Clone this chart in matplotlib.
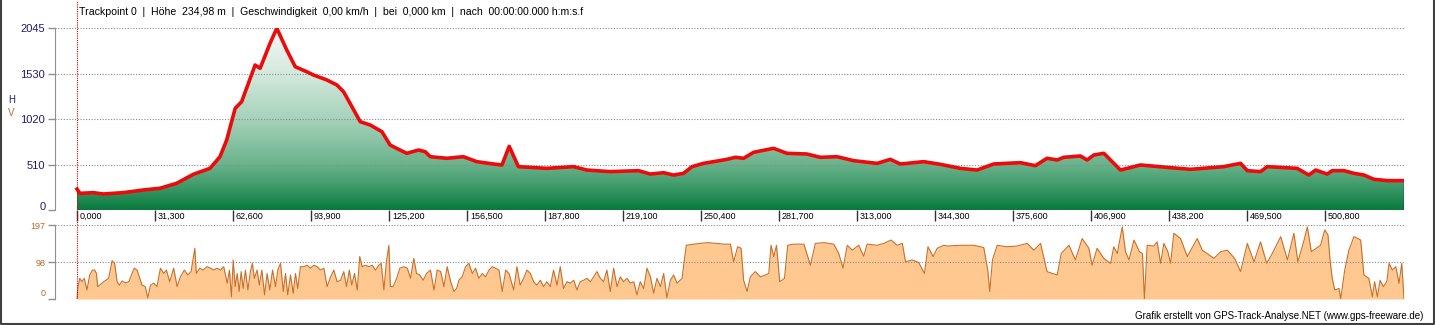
import matplotlib
matplotlib.use("Agg")
import matplotlib.pyplot as plt
import matplotlib.transforms as mtransforms
from matplotlib.colors import LinearSegmentedColormap
from matplotlib.lines import Line2D
import numpy as np

plt.rcParams['font.family'] = ['Liberation Sans', 'DejaVu Sans']

# Strecke in km
DIST_END = 532.7

# Höhenprofil (km, m)
elev_km = [0, 1.2, 6.5, 10.6, 18.6, 26.6, 33.3, 40, 46.7, 53.4, 57.4, 60.1, 63.5, 66.1,
           71.5, 73.5, 77.5, 80.2, 84.2, 87.6, 92.2, 94.9, 100.3, 104.3, 107, 109.6,
           113.7, 117.7, 122.4, 125.7, 128.5, 132.4, 137.1, 139.8, 141.8, 148.5, 155.1,
           160.5, 167.2, 170.6, 173.5, 177.2, 188.6, 199.3, 204.7, 214, 225.4, 230.1,
           235.5, 239.5, 243.5, 246.9, 251.5, 260.9, 264.3, 267.6, 271.6, 279.6, 285,
           293, 298.4, 305.1, 311.8, 321.2, 326.5, 330.5, 339.9, 346.6, 354.6, 361.3,
           368, 378.7, 384.7, 389.4, 393.5, 396.1, 402.8, 405.5, 408.2, 412.2, 418.9,
           426.9, 437.6, 447, 460.3, 467.1, 469.8, 475.1, 477.8, 489.8, 494.5, 497.2,
           501.9, 503.9, 508.6, 512.6, 516.6, 520.6, 526, 532.7]
elev_m = [235, 187, 195, 180, 195, 225, 244, 300, 401, 468, 599, 787, 1142, 1217,
          1629, 1592, 1873, 2042, 1798, 1610, 1554, 1517, 1461, 1405, 1329, 1199,
          992, 955, 880, 730, 690, 637, 674, 655, 599, 581, 599,
          543, 517, 506, 715, 487, 468, 487, 449, 431, 442, 404,
          419, 393, 412, 487, 524, 569, 592, 581, 648, 693, 637,
          629, 592, 599, 554, 524, 569, 517, 543, 513, 468, 449,
          517, 532, 498, 581, 562, 592, 607, 562, 618, 637, 449,
          506, 479, 457, 487, 524, 442, 431, 487, 468, 393, 449,
          404, 442, 442, 412, 393, 345, 330, 330]

# Geschwindigkeit (km, km/h)
speed_km = [0, 0.4, 1.1, 2.0, 2.9, 4.0, 5.1, 6.2, 7.1, 7.8, 8.3, 9.1, 10.7, 12.7, 14.1,
            15.1, 16.1, 17.0, 18.1, 19.4, 20.8, 22.1, 23.0, 24.1, 25.2, 26.1, 27.4, 28.4,
            29.5, 30.8, 32.1, 33.5, 34.8, 35.9, 37.2, 38.8, 40.2, 41.5, 43.1, 44.5, 45.8,
            47.3, 47.9, 49.3, 50.6, 52.2, 53.6, 54.9, 56.2, 57.6, 58.9, 60.3, 61.2, 62.0,
            62.7, 63.5, 64.3, 65.1, 65.9, 66.7, 67.6, 68.6, 69.6, 70.4, 71.2, 72.3, 73.2,
            74.2, 75.3, 76.3, 77.4, 78.5, 79.7, 80.6, 81.7, 82.8, 83.7, 84.6, 85.7, 86.8,
            87.7, 88.6, 89.7, 91.1, 92.4, 93.7, 95.1, 96.4, 97.7, 99.1, 100.4, 101.8,
            103.1, 104.4, 105.8, 107.1, 108.2, 109.3, 110.3, 111.4, 112.5, 113.5, 114.5,
            115.8, 117.2, 118.5, 119.8, 121.2, 122.1, 123.2, 124.2, 125.2, 125.8, 126.9,
            128.3, 129.6, 131.2, 132.6, 133.9, 135.2, 136.3, 137.6, 139.0, 140.3, 141.9,
            143.3, 144.6, 146.0, 147.3, 148.6, 150.0, 151.3, 152.4, 153.3, 154.6, 156.0,
            157.3, 158.7, 160.0, 161.3, 162.7, 164.0, 165.4, 166.7, 168.0, 169.4, 170.7,
            172.1, 173.4, 175.3, 176.6, 177.9, 179.3, 180.6, 182.0, 183.3, 184.6, 186.0,
            187.3, 188.6, 190.0, 191.3, 192.7, 194.0, 195.3, 196.7, 198.0, 199.4, 200.7,
            202.0, 203.4, 204.7, 206.1, 207.4, 208.7, 210.1, 211.4, 212.7, 214.1, 215.4,
            216.8, 218.1, 219.4, 220.8, 222.1, 223.5, 224.8, 226.1, 227.5, 228.8, 230.2,
            231.5, 232.8, 234.2, 235.5, 236.8, 238.2, 239.5, 240.9, 242.9, 243.8, 244.6,
            247.6, 250.2, 252.9, 256.9, 259.6, 262.3, 263.6, 265.2, 266.6, 267.6, 269.0,
            270.3, 272.3, 274.3, 276.4, 277.7, 278.6, 279.7, 280.8, 282.1, 284.0, 285.3,
            287.7, 291.8, 294.4, 296.4, 299.8, 303.8, 305.8, 307.5, 309.2, 311.2, 313.8,
            315.8, 317.2, 321.2, 323.9, 326.8, 329.2, 331.3, 332.6, 335.3, 337.9, 340.2,
            341.6, 343.7, 345.3, 348.0, 349.3, 354.6, 360.0, 364.0, 365.6, 366.4, 367.5,
            369.4, 373.4, 377.4, 381.4, 384.1, 386.8, 389.4, 391.5, 393.5, 395.1, 398.2,
            400.8, 403.5, 406.2, 407.5, 409.5, 412.2, 414.9, 416.2, 417.6, 419.6, 420.9,
            422.3, 424.3, 426.5, 427.7, 428.5, 429.6, 432.3, 433.6, 435.0, 436.3, 437.9,
            439.0, 440.3, 443.0, 445.7, 449.7, 451.7, 453.7, 456.4, 459.1, 461.8, 464.7,
            467.1, 469.8, 472.5, 475.1, 477.6, 479.8, 483.2, 485.9, 488.5, 490.1, 492.6,
            493.9, 495.5, 499.2, 500.9, 502.2, 503.0, 503.9, 504.9, 506.6, 507.3, 508.9,
            510.6, 512.6, 515.3, 516.6, 518.6, 520.0, 520.9, 522.0, 523.1, 524.4, 525.8,
            526.7, 528.0, 529.4, 530.7, 531.8, 532.7]
speed_kmh = [0, 33, 55, 46, 55, 24, 64, 77, 77, 68, 33, 37, 46, 55, 102,
             95, 46, 37, 48, 43, 46, 68, 82, 77, 55, 37, 33, 3,
             37, 42, 33, 82, 68, 77, 46, 82, 33, 59, 77, 64, 73,
             135, 68, 82, 77, 86, 82, 77, 82, 77, 86, 42, 77, 6,
             104, 33, 68, 20, 73, 28, 77, 24, 73, 95, 55, 77, 37,
             77, 11, 68, 24, 77, 33, 77, 95, 20, 68, 11, 64, 15,
             68, 28, 86, 86, 90, 82, 90, 86, 77, 82, 33, 59,
             77, 46, 50, 73, 33, 77, 37, 68, 24, 113, 86,
             90, 86, 90, 77, 90, 95, 24, 99, 143, 33, 33,
             55, 82, 86, 82, 55, 108, 68, 64, 50, 68, 77,
             24, 77, 73, 33, 86, 46, 20, 28, 50, 59, 86,
             95, 68, 82, 55, 68, 59, 77, 86, 82, 77, 20,
             77, 68, 24, 86, 37, 55, 77, 68, 46, 37, 50,
             33, 46, 33, 77, 37, 86, 28, 46, 42, 50, 24,
             46, 50, 55, 46, 59, 73, 55, 46, 77, 20, 82,
             33, 59, 46, 55, 42, 46, 11, 46, 28, 82, 59,
             15, 55, 33, 68, 3, 50, 64, 42, 55, 104, 143,
             146, 148, 150, 148, 146, 146, 99, 139, 135, 50, 20,
             59, 73, 59, 64, 68, 143, 113, 143, 46, 55, 143,
             146, 146, 90, 148, 150, 146, 121, 82, 143, 130, 143,
             114, 146, 143, 148, 157, 143, 148, 99, 104, 97, 68,
             139, 113, 135, 143, 141, 143, 143, 137, 77, 20, 104,
             143, 139, 141, 148, 130, 148, 73, 68, 64, 121, 143,
             104, 161, 135, 90, 135, 108, 95, 139, 121, 192, 126,
             104, 157, 126, 121, 0, 143, 141, 152, 95, 148, 126,
             95, 175, 161, 113, 161, 130, 121, 108, 126, 130, 108,
             73, 148, 99, 152, 95, 121, 166, 104, 175, 99, 157,
             192, 126, 143, 184, 170, 104, 55, 24, 28, 0, 77,
             130, 166, 157, 64, 55, 6, 46, 6, 50, 33, 46,
             95, 77, 86, 42, 95, 0]

elev_ticks = [0, 510, 1020, 1530, 2045]
speed_ticks = [0, 98, 197]
dist_ticks = [0, 31.3, 62.6, 93.9, 125.2, 156.5, 187.8, 219.1, 250.4, 281.7,
              313.0, 344.3, 375.6, 406.9, 438.2, 469.5, 500.8]
dist_labels = [f"{d:.3f}".replace(".", ",") for d in dist_ticks]

header = ("Trackpoint 0  |  Höhe  234,98 m  |  Geschwindigkeit  0,00 km/h  |  "
          "bei  0,000 km  |  nach  00:00:00.000 h:m:s.f")
footer = "Grafik erstellt von GPS-Track-Analyse.NET (www.gps-freeware.de)"

NAVY = "#1c1c70"
BROWN = "#b8682e"
GRID = "#8a8a8a"

W, H = 1435, 325
fig = plt.figure(figsize=(W / 100, H / 100), dpi=100)


def px_box(x0, y0, x1, y1):
    return [x0 / W, 1 - y1 / H, (x1 - x0) / W, (y1 - y0) / H]


ax = fig.add_axes(px_box(55, 28, 1404, 210))
ax2 = fig.add_axes(px_box(55, 225, 1404, 299))
x_left = -22 / ((1404 - 77) / DIST_END)

# --- Höhe ---
green = LinearSegmentedColormap.from_list(
    "hoehe", [(0, "#077a3d"), (0.12, "#3a9866"), (0.25, "#6ab38c"),
              (0.5, "#a6d2ba"), (0.75, "#d3e9dd"), (1, "#f4f8f6")])
poly = ax.fill_between(elev_km, elev_m, 0, color="none", lw=0)
grad = np.linspace(0, 1, 256).reshape(-1, 1)
im = ax.imshow(grad, cmap=green, origin="lower", aspect="auto",
               extent=[elev_km[0], elev_km[-1], 0, elev_ticks[-1]], zorder=1)
im.set_clip_path(poly.get_paths()[0], transform=ax.transData)
ax.plot([elev_km[-1], elev_km[-1]], [0, elev_m[-1]], color=NAVY, lw=1, zorder=2)
ax.plot(elev_km, elev_m, color="#ee0a0a", lw=2.6, zorder=3,
        solid_joinstyle="round")
ax.set_xlim(x_left, DIST_END)
ax.set_ylim(0, elev_ticks[-1])

# --- Geschwindigkeit ---
ax2.fill_between(speed_km, speed_kmh, 0, color="#ffc891", lw=0, zorder=1)
ax2.plot(speed_km, speed_kmh, color="#c8702a", lw=0.8, zorder=3)
ax2.set_xlim(x_left, DIST_END)
ax2.set_ylim(0, speed_ticks[-1])

for a, ticks, col, lift in ((ax, elev_ticks, NAVY, 4.5), (ax2, speed_ticks, BROWN, 7)):
    a.set_axisbelow(False)
    a.grid(axis="y", color=GRID, linestyle=(0, (1, 1.5)), lw=0.8)
    for s in ("top", "right", "bottom"):
        a.spines[s].set_visible(False)
    a.spines["left"].set_color("#909090")
    a.set_yticks(ticks)
    a.set_yticklabels([str(t) for t in ticks])
    a.tick_params(axis="y", length=5, width=1, color="#909090", pad=2,
                  labelcolor=col, labelsize=8 if a is ax else 6.5)
    zero = a.get_yticklabels()[0]
    zero.set_transform(zero.get_transform() +
                       mtransforms.ScaledTranslation(0, lift / 100, fig.dpi_scale_trans))

ax.set_xticks(dist_ticks)
ax.set_xticklabels(dist_labels)
ax.tick_params(axis="x", direction="out", length=8, width=1, color="#303030",
               labelsize=6.5, pad=-6.5)
shift = mtransforms.ScaledTranslation(3 / 100, 0, fig.dpi_scale_trans)
for lbl in ax.get_xticklabels():
    lbl.set_ha("left")
    lbl.set_transform(lbl.get_transform() + shift)
ax2.set_xticks([])

# Cursorlinie bei Trackpoint 0
ax.axvline(0, ymin=-15 / 182, ymax=209 / 182, clip_on=False, color="#d00000",
           linestyle=(0, (1, 1)), lw=0.8, zorder=4)
ax2.axvline(0, color="#d00000", linestyle=(0, (1, 1)), lw=0.8, zorder=4)

fig.text(79 / W, 1 - 12 / H, header, fontsize=7.6, va="center", ha="left")
fig.text(1423 / W, 1 - 316 / H, footer, fontsize=7, va="center", ha="right")
fig.text(8 / W, 1 - 100 / H, "H", fontsize=7, color=NAVY, va="center")
fig.text(8 / W, 1 - 113 / H, "V", fontsize=7, color=BROWN, va="center")

fig.add_artist(Line2D([0.5 / W, 0.5 / W, 1 - 1 / W, 1 - 1 / W],
                      [1, 1 / H, 1 / H, 1], transform=fig.transFigure,
                      color="#404040", lw=1.5))

fig.savefig("out.png", dpi=100)
